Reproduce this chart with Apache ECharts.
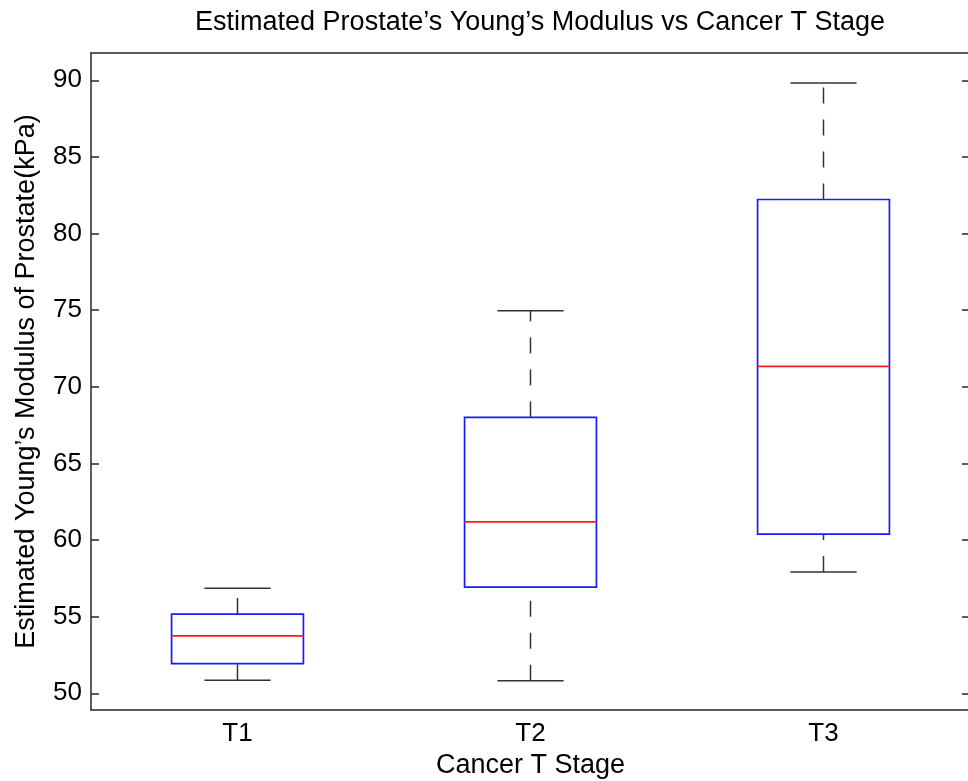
<!DOCTYPE html>
<html>
<head>
<meta charset="utf-8">
<script src="https://cdn.jsdelivr.net/npm/echarts@6/dist/echarts.min.js"></script>
<style>
  html, body { margin: 0; padding: 0; background: #fff; }
  #chart { width: 968px; height: 781px; }
</style>
</head>
<body>
<div id="chart"></div>
<script>
// box plot values (kPa)
let categories = ['T1', 'T2', 'T3'];
let lowerWhisker = [50.85, 50.82, 57.91];
let q1 = [51.93, 56.93, 60.39];
let median = [53.75, 61.19, 71.33];
let q3 = [55.17, 68.0, 82.22];
let upperWhisker = [56.86, 74.96, 89.83];
let yTicks = [50, 55, 60, 65, 70, 75, 80, 85, 90];

let fontFam = '"Liberation Sans", Arial, Helvetica, sans-serif';
let axisColor = '#262626';

let boxData = categories.map(function (c, i) {
    return [i, lowerWhisker[i], q1[i], median[i], q3[i], upperWhisker[i]];
});

function renderBox(params, api) {
    let x = api.value(0);
    let pLow = api.coord([x, api.value(1)]);
    let pQ1 = api.coord([x, api.value(2)]);
    let pMed = api.coord([x, api.value(3)]);
    let pQ3 = api.coord([x, api.value(4)]);
    let pHigh = api.coord([x, api.value(5)]);
    let band = api.size([1, 0])[0];
    let half = band * 0.225;   // box half width
    let cap = band * 0.113;    // whisker cap half width
    let cx = pMed[0];

    let dashStyle = { stroke: '#333', lineWidth: 1.5, lineDash: [16, 16] };
    let solid = { stroke: '#333', lineWidth: 1.5 };

    return {
        type: 'group',
        children: [
            // whiskers, drawn from lower value to higher value
            { type: 'line', shape: { x1: cx, y1: pLow[1], x2: cx, y2: pQ1[1] }, style: dashStyle },
            { type: 'line', shape: { x1: cx, y1: pQ3[1], x2: cx, y2: pHigh[1] }, style: dashStyle },
            { type: 'line', shape: { x1: cx - cap, y1: pLow[1], x2: cx + cap, y2: pLow[1] }, style: solid },
            { type: 'line', shape: { x1: cx - cap, y1: pHigh[1], x2: cx + cap, y2: pHigh[1] }, style: solid },
            {
                type: 'rect',
                shape: { x: cx - half, y: pQ3[1], width: half * 2, height: pQ1[1] - pQ3[1] },
                style: { fill: 'none', stroke: '#1a1aff', lineWidth: 1.7 }
            },
            { type: 'line', shape: { x1: cx - half, y1: pMed[1], x2: cx + half, y2: pMed[1] }, style: { stroke: '#ff1a1a', lineWidth: 1.7 } }
        ]
    };
}

let chart = echarts.init(document.getElementById('chart'));

let option = {
    animation: false,
    backgroundColor: '#fff',
    title: {
        text: 'Estimated Prostate\u2019s Young\u2019s Modulus vs Cancer T Stage',
        left: 535,
        top: 4,
        textAlign: 'center',
        textStyle: { fontFamily: fontFam, fontSize: 27, fontWeight: 'normal', color: '#000' }
    },
    grid: { left: 91, right: -2, top: 53, bottom: 71, containLabel: false, outerBoundsMode: 'none' },
    xAxis: [
        {
            type: 'category',
            data: categories,
            boundaryGap: true,
            position: 'bottom',
            axisLine: { show: true, lineStyle: { color: axisColor, width: 1.5 } },
            axisTick: { show: false },
            axisLabel: { margin: 11, fontFamily: fontFam, fontSize: 26, color: '#000' },
            name: 'Cancer T Stage',
            nameLocation: 'middle',
            nameGap: 38,
            nameTextStyle: { fontFamily: fontFam, fontSize: 27, color: '#000', verticalAlign: 'top' }
        },
        {
            type: 'category',
            data: categories,
            position: 'top',
            axisLine: { show: true, lineStyle: { color: axisColor, width: 1.5 } },
            axisTick: { show: false },
            axisLabel: { show: false }
        }
    ],
    yAxis: [
        {
            type: 'value',
            min: 48.91,
            max: 91.78,
            position: 'left',
            axisLine: { show: true, lineStyle: { color: axisColor, width: 1.5 } },
            axisTick: { show: true, inside: true, length: 8, customValues: yTicks, lineStyle: { color: axisColor, width: 1.5 } },
            axisLabel: { customValues: yTicks, margin: 9, fontFamily: fontFam, fontSize: 26, color: '#000' },
            splitLine: { show: false },
            name: 'Estimated Young\u2019s Modulus of Prostate(kPa)',
            nameLocation: 'middle',
            nameGap: 51,
            nameRotate: 90,
            nameTextStyle: { fontFamily: fontFam, fontSize: 27, color: '#000' }
        },
        {
            type: 'value',
            min: 48.91,
            max: 91.78,
            position: 'right',
            axisLine: { show: true, lineStyle: { color: axisColor, width: 1.5 } },
            axisTick: { show: true, inside: true, length: 8, customValues: yTicks, lineStyle: { color: axisColor, width: 1.5 } },
            axisLabel: { show: false },
            splitLine: { show: false }
        }
    ],
    series: [
        {
            type: 'custom',
            xAxisIndex: 0,
            yAxisIndex: 0,
            renderItem: renderBox,
            encode: { x: 0, y: [1, 2, 3, 4, 5] },
            data: boxData
        }
    ]
};

chart.setOption(option);
</script>
</body>
</html>
